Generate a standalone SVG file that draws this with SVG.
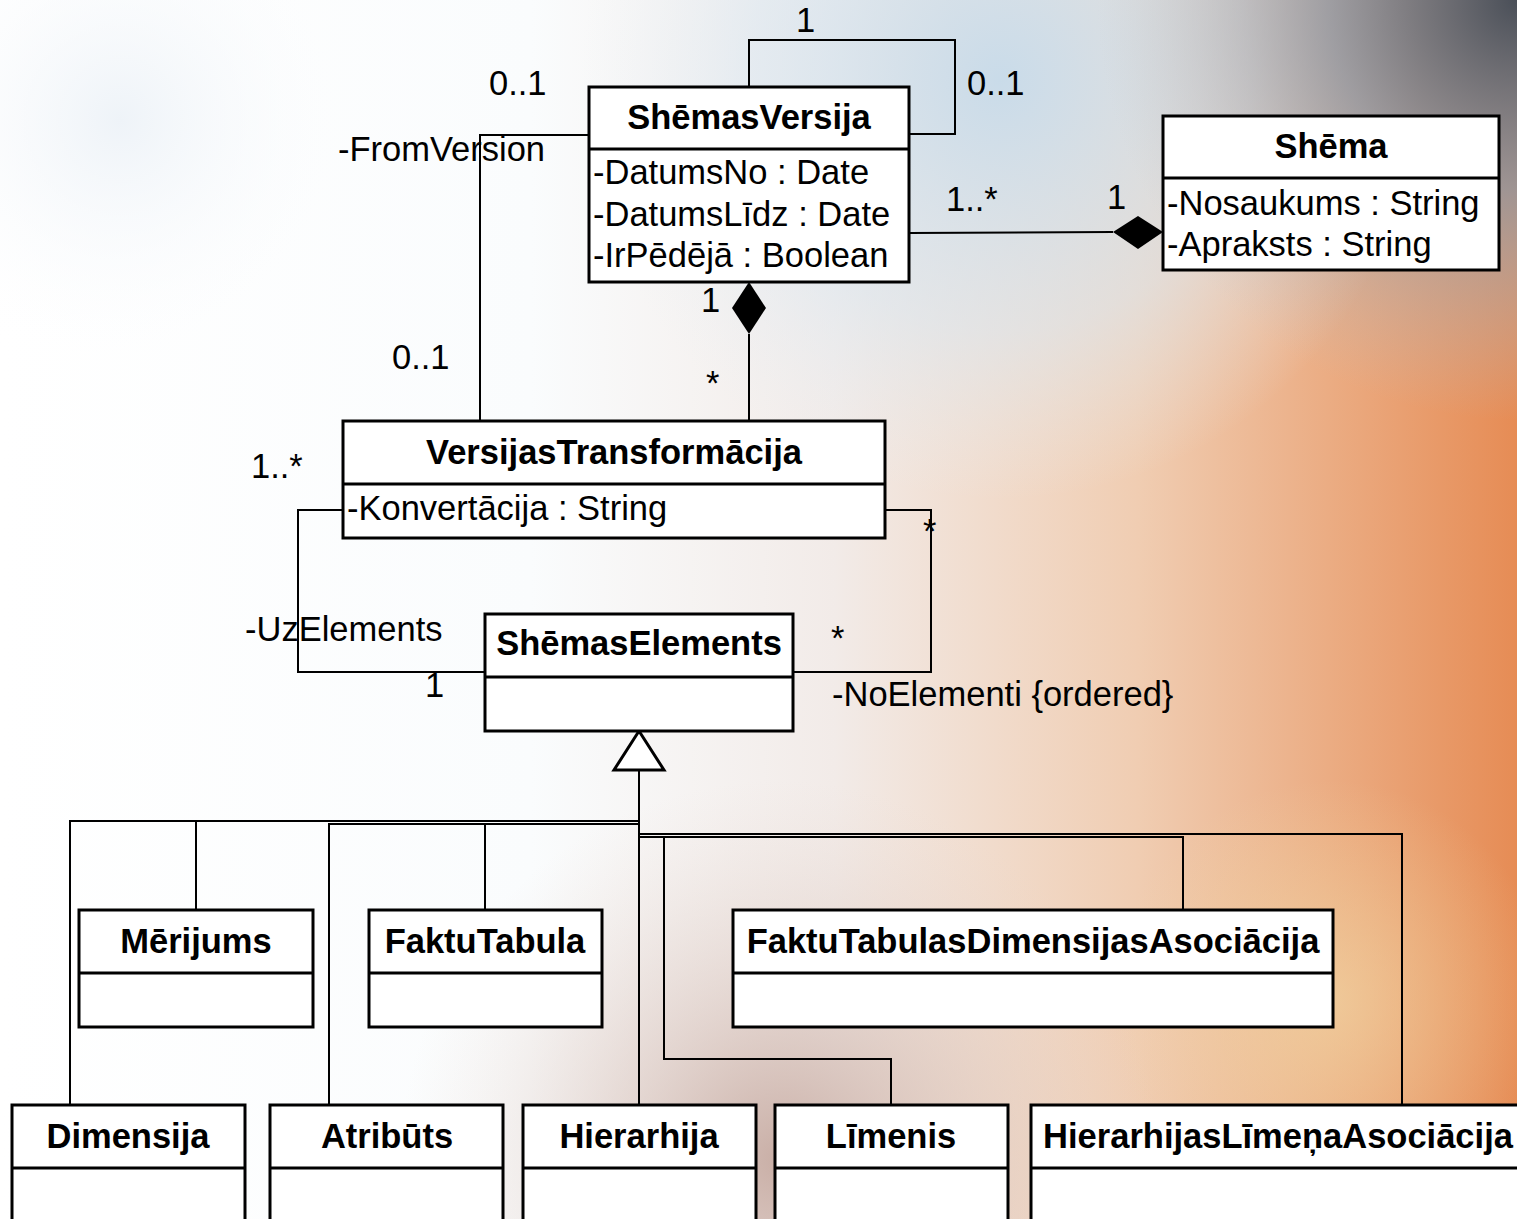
<svg xmlns="http://www.w3.org/2000/svg" width="1517" height="1219" viewBox="0 0 1517 1219">
<defs>
<linearGradient id="bgH" x1="0" y1="0" x2="1" y2="0">
<stop offset="0" stop-color="#ffffff"/>
<stop offset="0.35" stop-color="#fafcfd"/>
<stop offset="0.55" stop-color="#f2ebe8"/>
<stop offset="0.75" stop-color="#f0cdb2"/>
<stop offset="1" stop-color="#e68c55"/>
</linearGradient>
<radialGradient id="blueTop" cx="1000" cy="80" r="420" gradientUnits="userSpaceOnUse">
<stop offset="0" stop-color="#c9dbe9" stop-opacity="1"/>
<stop offset="0.6" stop-color="#dbe8f2" stop-opacity="0.6"/>
<stop offset="1" stop-color="#e8f0f6" stop-opacity="0"/>
</radialGradient>
<radialGradient id="darkTR" cx="1517" cy="0" r="420" gradientUnits="userSpaceOnUse">
<stop offset="0" stop-color="#4a4f58" stop-opacity="1"/>
<stop offset="0.45" stop-color="#8d96a2" stop-opacity="0.8"/>
<stop offset="1" stop-color="#b8c4d0" stop-opacity="0"/>
</radialGradient>
<radialGradient id="blueL" cx="120" cy="120" r="260" gradientUnits="userSpaceOnUse">
<stop offset="0" stop-color="#eef3f8" stop-opacity="1"/>
<stop offset="1" stop-color="#ffffff" stop-opacity="0"/>
</radialGradient>
<radialGradient id="brownB" cx="780" cy="1160" r="380" gradientUnits="userSpaceOnUse">
<stop offset="0" stop-color="#c4a79e" stop-opacity="0.9"/>
<stop offset="1" stop-color="#e8d8d0" stop-opacity="0"/>
</radialGradient>
<radialGradient id="paleY" cx="1330" cy="1000" r="220" gradientUnits="userSpaceOnUse">
<stop offset="0" stop-color="#f2dca8" stop-opacity="0.6"/>
<stop offset="1" stop-color="#f2dca8" stop-opacity="0"/>
</radialGradient>
<style>
.box{fill:#ffffff;stroke:#000;stroke-width:3}
.div{stroke:#000;stroke-width:3}
.ln{fill:none;stroke:#000;stroke-width:2}
.t{font-family:"Liberation Sans",Arial,sans-serif;font-size:34.5px;fill:#000}
.b{font-family:"Liberation Sans",Arial,sans-serif;font-size:34.5px;font-weight:bold;fill:#000;text-anchor:middle}
</style>
</defs>
<rect x="0" y="0" width="1517" height="1219" fill="url(#bgH)"/>
<rect x="0" y="0" width="1517" height="1219" fill="url(#blueTop)"/>
<rect x="0" y="0" width="1517" height="1219" fill="url(#blueL)"/>
<rect x="0" y="0" width="1517" height="1219" fill="url(#brownB)"/>
<rect x="0" y="0" width="1517" height="1219" fill="url(#paleY)"/>
<rect x="0" y="0" width="1517" height="1219" fill="url(#darkTR)"/>

<g id="connectors">
<polyline class="ln" points="749,87 749,40 955,40 955,134 909,134"/>
<polyline class="ln" points="589,135 480,135 480,421"/>
<line class="ln" x1="909" y1="233" x2="1113" y2="232"/>
<polygon points="1163,232 1138,216 1113,232 1138,249" fill="#000"/>
<line class="ln" x1="749" y1="334" x2="749" y2="421"/>
<polygon points="749,282 766,308 749,334 732,308" fill="#000"/>
<polyline class="ln" points="343,510 298,510 298,672 485,672"/>
<polyline class="ln" points="885,510 931,510 931,672 793,672"/>
<polyline class="ln" points="639,770 639,1105"/>
<polyline class="ln" points="639,821 70,821 70,1105"/>
<line class="ln" x1="196" y1="821" x2="196" y2="910"/>
<polyline class="ln" points="639,824 329,824 329,1105"/>
<line class="ln" x1="485" y1="824" x2="485" y2="910"/>
<polyline class="ln" points="639,834 1402,834 1402,1105"/>
<polyline class="ln" points="639,837 1183,837 1183,910"/>
<polyline class="ln" points="664,837 664,1059 891,1059 891,1105"/>
<polygon points="639,731 614,770 664,770" fill="#fff" stroke="#000" stroke-width="3" stroke-linejoin="miter"/>
<text class="t" x="796" y="32">1</text>
<text class="t" x="967" y="95">0..1</text>
<text class="t" x="489" y="95">0..1</text>
<text class="t" x="338" y="161">-FromVersion</text>
<text class="t" x="946" y="211">1..*</text>
<text class="t" x="1107" y="209">1</text>
<text class="t" x="701" y="312">1</text>
<text class="t" x="392" y="369">0..1</text>
<text class="t" x="706" y="395">*</text>
<text class="t" x="251" y="478">1..*</text>
<text class="t" x="923" y="543">*</text>
<text class="t" x="245" y="641">-UzElements</text>
<text class="t" x="831" y="650">*</text>
<text class="t" x="425" y="697">1</text>
<text class="t" x="832" y="706">-NoElementi {ordered}</text>
</g>

<g id="ShemasVersija">
<rect class="box" x="589" y="87" width="320" height="195"/>
<line class="div" x1="589" y1="149" x2="909" y2="149"/>
<text class="b" x="749" y="129">ShēmasVersija</text>
<text class="t" x="593" y="184">-DatumsNo : Date</text>
<text class="t" x="593" y="226">-DatumsLīdz : Date</text>
<text class="t" x="593" y="267">-IrPēdējā : Boolean</text>
</g>

<g id="Shema">
<rect class="box" x="1163" y="116" width="336" height="154"/>
<line class="div" x1="1163" y1="178" x2="1499" y2="178"/>
<text class="b" x="1331" y="158">Shēma</text>
<text class="t" x="1167" y="215">-Nosaukums : String</text>
<text class="t" x="1167" y="256">-Apraksts : String</text>
</g>

<g id="VersijasTransformacija">
<rect class="box" x="343" y="421" width="542" height="117"/>
<line class="div" x1="343" y1="484" x2="885" y2="484"/>
<text class="b" x="614" y="464">VersijasTransformācija</text>
<text class="t" x="347" y="520">-Konvertācija : String</text>
</g>

<g id="ShemasElements">
<rect class="box" x="485" y="614" width="308" height="117"/>
<line class="div" x1="485" y1="677" x2="793" y2="677"/>
<text class="b" x="639" y="655">ShēmasElements</text>
</g>

<g id="Merijums">
<rect class="box" x="79" y="910" width="234" height="117"/>
<line class="div" x1="79" y1="973" x2="313" y2="973"/>
<text class="b" x="196" y="953">Mērijums</text>
</g>

<g id="FaktuTabula">
<rect class="box" x="369" y="910" width="233" height="117"/>
<line class="div" x1="369" y1="973" x2="602" y2="973"/>
<text class="b" x="485" y="953">FaktuTabula</text>
</g>

<g id="FaktuTabulasDimensijasAsociacija">
<rect class="box" x="733" y="910" width="600" height="117"/>
<line class="div" x1="733" y1="973" x2="1333" y2="973"/>
<text class="b" x="1033" y="953">FaktuTabulasDimensijasAsociācija</text>
</g>

<g id="Dimensija">
<rect class="box" x="12" y="1105" width="233" height="130"/>
<line class="div" x1="12" y1="1168" x2="245" y2="1168"/>
<text class="b" x="128" y="1148">Dimensija</text>
</g>

<g id="Atributs">
<rect class="box" x="270" y="1105" width="233" height="130"/>
<line class="div" x1="270" y1="1168" x2="503" y2="1168"/>
<text class="b" x="387" y="1148">Atribūts</text>
</g>

<g id="Hierarhija">
<rect class="box" x="523" y="1105" width="233" height="130"/>
<line class="div" x1="523" y1="1168" x2="756" y2="1168"/>
<text class="b" x="639" y="1148">Hierarhija</text>
</g>

<g id="Limenis">
<rect class="box" x="775" y="1105" width="233" height="130"/>
<line class="div" x1="775" y1="1168" x2="1008" y2="1168"/>
<text class="b" x="891" y="1148">Līmenis</text>
</g>

<g id="HierarhijasLimenaAsociacija">
<rect class="box" x="1031" y="1105" width="520" height="130"/>
<line class="div" x1="1031" y1="1168" x2="1551" y2="1168"/>
<text class="b" x="1278" y="1148">HierarhijasLīmeņaAsociācija</text>
</g>
</svg>
